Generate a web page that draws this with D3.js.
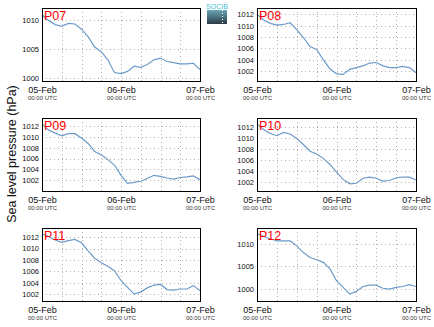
<!DOCTYPE html>
<html><head><meta charset="utf-8">
<script src="https://cdn.jsdelivr.net/npm/d3@7"></script>
<style>body{margin:0;background:#fff}svg{display:block;font-family:"Liberation Sans",Arial,sans-serif}</style>
</head><body><svg id="c" width="434" height="327"></svg>
<script>
// ---- data ----
const hours = d3.range(0, 49, 2); // hours since 05-Feb 00:00 UTC
const stations = ["P07", "P08", "P09", "P10", "P11", "P12"];
const p07 = [1010.9,1009.9,1009.2,1008.9,1009.4,1009.3,1008.4,1007.1,1005.3,1004.5,1003.1,1000.9,1000.7,1001.1,1002.0,1001.8,1002.3,1003.1,1003.4,1002.8,1002.6,1002.4,1002.4,1002.5,1001.4];
const p08 = [1012.0,1011.0,1010.4,1010.1,1010.2,1010.5,1009.3,1007.9,1006.3,1005.8,1004.0,1002.4,1001.5,1001.4,1002.3,1002.6,1002.9,1003.4,1003.5,1002.9,1002.6,1002.6,1002.8,1002.6,1001.7];
const p09 = [1012.4,1011.3,1010.7,1010.2,1010.6,1010.6,1009.8,1008.8,1007.3,1006.7,1005.8,1004.8,1002.9,1001.4,1001.6,1001.8,1002.3,1002.9,1002.7,1002.4,1002.2,1002.5,1002.6,1002.8,1002.1];
const p10 = [1012.5,1011.5,1010.8,1010.4,1011.0,1010.7,1009.9,1008.8,1007.6,1007.1,1006.3,1005.2,1003.8,1002.5,1001.7,1001.8,1002.7,1002.9,1002.7,1002.2,1002.3,1002.8,1002.9,1002.9,1002.4];
const p11 = [1012.6,1012.1,1011.5,1011.1,1011.4,1011.6,1011.0,1009.6,1008.3,1007.5,1006.9,1006.1,1004.4,1003.2,1002.0,1002.4,1003.1,1003.6,1003.7,1002.8,1002.7,1002.9,1002.9,1003.5,1002.6];
const p12 = [1012.4,1011.7,1011.2,1010.7,1010.7,1010.7,1009.6,1008.1,1007.0,1006.5,1005.9,1004.5,1001.8,1000.3,998.8,999.4,1000.5,1000.8,1000.8,1000.1,999.9,1000.3,1000.5,1000.9,1000.5];
const series = [p07, p08, p09, p10, p11, p12];
const yDomains = [[999.43,1012.07],[1000.24,1013.1],[1000.0,1013.5],[1000.4,1013.6],[1000.8,1013.6],[997.25,1013.6]];
const yTicks = [[1000,1005,1010],[1002,1004,1006,1008,1010,1012],[1002,1004,1006,1008,1010,1012],[1002,1004,1006,1008,1010,1012],[1002,1004,1006,1008,1010,1012],[1000,1005,1010]];
const xTickHours = [0, 24, 48];
const xTickLabels = ["05-Feb", "06-Feb", "07-Feb"];
const xTickSub = "00:00 UTC";
const yLabel = "Sea level pressure (hPa)";

// ---- layout ----
const svg = d3.select("#c");
const colX = [42, 257], colW = [158, 159];
const rowY = [8, 118, 228], plotH = 73;

stations.forEach((name, i) => {
  const c = i % 2, r = Math.floor(i / 2);
  const x0 = colX[c], y0 = rowY[r], w = colW[c];
  const g = svg.append("g").attr("transform", `translate(${x0},${y0})`);
  const x = d3.scaleLinear().domain([0, 48]).range([0, w]);
  const y = d3.scaleLinear().domain(yDomains[i]).range([plotH, 0]);

  // grid
  g.append("g").selectAll("line").data(d3.range(6, 48, 6)).join("line")
    .attr("x1", d => Math.round(x(d)) + 0.5).attr("x2", d => Math.round(x(d)) + 0.5)
    .attr("y1", 0).attr("y2", plotH)
    .attr("stroke", "#b0b0b0").attr("stroke-dasharray", "1,3");
  g.append("g").selectAll("line").data(yTicks[i]).join("line")
    .attr("x1", 0).attr("x2", w)
    .attr("y1", d => Math.round(y(d)) + 0.5).attr("y2", d => Math.round(y(d)) + 0.5)
    .attr("stroke", "#b0b0b0").attr("stroke-dasharray", "1,3");

  // line
  g.append("path").datum(hours.map((h, k) => [h, series[i][k]]))
    .attr("fill", "none").attr("stroke", "#6c9bc9").attr("stroke-width", 1.2)
    .attr("d", d3.line().x(d => x(d[0])).y(d => y(d[1])));

  // frame
  g.append("rect").attr("x", 0.5).attr("y", 0.5).attr("width", w).attr("height", plotH)
    .attr("fill", "none").attr("stroke", "#000").attr("stroke-width", 1);

  // y axis
  const ya = g.append("g").call(d3.axisLeft(y).tickValues(yTicks[i]).tickSize(0).tickPadding(3).tickFormat(d3.format("d")));
  ya.select(".domain").remove();
  ya.selectAll("text").attr("font-size", 7.5).attr("fill", "#111").attr("font-family", "Liberation Sans, Arial, sans-serif");

  // x axis
  const xa = g.append("g").attr("transform", `translate(0,${plotH})`)
    .call(d3.axisBottom(x).tickValues(xTickHours).tickSize(0).tickPadding(6)
      .tickFormat((d, k) => xTickLabels[k]));
  xa.select(".domain").remove();
  xa.selectAll("text").attr("font-size", 9).attr("fill", "#111").attr("font-family", "Liberation Sans, Arial, sans-serif");
  xa.selectAll(".tick").append("text").attr("y", 19).attr("text-anchor", "middle")
    .attr("font-size", 6).attr("fill", "#333").text(xTickSub);

  // station label
  g.append("text").attr("x", 2).attr("y", 12).attr("fill", "#f00")
    .attr("font-size", 12.5).text(name);
});

// y-axis title
svg.append("text").attr("transform", "translate(16,154) rotate(-90)")
  .attr("text-anchor", "middle").attr("font-size", 12.5).attr("fill", "#111").text(yLabel);

// logo
const defs = svg.append("defs");
const lg = defs.append("linearGradient").attr("id", "lg").attr("x1", 0).attr("y1", 0).attr("x2", 0).attr("y2", 1);
lg.append("stop").attr("offset", "0").attr("stop-color", "#6aa6b4");
lg.append("stop").attr("offset", "1").attr("stop-color", "#2b3a47");
svg.append("text").attr("x", 217).attr("y", 9).attr("text-anchor", "middle")
  .attr("font-size", 7).attr("fill", "#3fc0d6").text("SOCIB");
svg.append("rect").attr("x", 207).attr("y", 10).attr("width", 20).attr("height", 14).attr("fill", "url(#lg)");
svg.append("line").attr("x1", 222.5).attr("x2", 222.5).attr("y1", 10).attr("y2", 24)
  .attr("stroke", "#fff").attr("stroke-dasharray", "1,2");
</script></body></html>
